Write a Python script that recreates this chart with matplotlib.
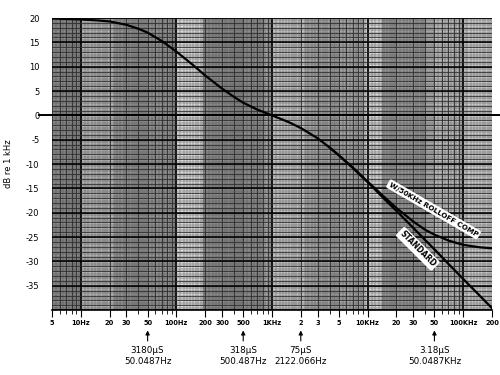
import numpy as np
import matplotlib
matplotlib.use("Agg")
import matplotlib.pyplot as plt

# RIAA playback response (dB re 1 kHz)
freq_std = [5, 7, 10, 15, 20, 30, 40, 50, 70, 100, 150, 200, 300, 400, 500,
            700, 1000, 1500, 2000, 3000, 4000, 5000, 7000, 10000, 15000,
            20000, 30000, 40000, 50000, 70000, 100000, 150000, 200000]
db_std = [19.9, 19.8, 19.7, 19.5, 19.3, 18.6, 17.8, 17.0, 15.3, 13.1, 10.3,
          8.2, 5.5, 3.8, 2.6, 1.2, 0.0, -1.4, -2.6, -4.7, -6.6, -8.2, -10.8,
          -13.7, -17.2, -19.6, -23.1, -25.6, -27.5, -30.5, -33.6, -37.1, -39.6]

# with 50 kHz (3.18 us) rolloff compensation, splits off above ~5 kHz
freq_comp = [4000, 5000, 7000, 10000, 15000, 20000, 30000, 40000, 50000,
             70000, 100000, 150000, 200000]
db_comp = [-6.6, -8.2, -10.7, -13.6, -16.8, -19.0, -21.8, -23.5, -24.5,
           -25.7, -26.6, -27.1, -27.3]

xtick_vals = [5, 10, 20, 30, 50, 100, 200, 300, 500, 1000, 2000, 3000, 5000,
              10000, 20000, 30000, 50000, 100000, 200000]
xtick_labels = ["5", "10Hz", "20", "30", "50", "100Hz", "200", "300", "500",
                "1KHz", "2", "3", "5", "10KHz", "20", "30", "50", "100KHz", "200"]
ytick_vals = [20, 15, 10, 5, 0, -5, -10, -15, -20, -25, -30, -35]

marker_freqs = [50, 500, 2000, 50000]
marker_labels = ["3180\u00b5S\n50.0487Hz", "318\u00b5S\n500.487Hz",
                 "75\u00b5S\n2122.066Hz", "3.18\u00b5S\n50.0487KHz"]

fig = plt.figure(figsize=(5, 3.75), dpi=100)
fig.patch.set_facecolor("white")
ax = fig.add_axes([0.104, 0.173, 0.880, 0.779])
ax.set_xscale("log")
ax.set_xlim(5, 200000)
ax.set_ylim(-40, 20)
ax.set_facecolor("#bcbcbc")

# scanned graph paper: uneven vertical shading bands
bands = [(5, 10, "#8a8a8a"), (10, 22, "#b4b4b4"), (22, 100, "#949494"),
         (100, 190, "#d8d8d8"), (190, 800, "#8c8c8c"), (800, 1000, "#a8a8a8"),
         (1000, 2200, "#c4c4c4"), (2200, 9000, "#a6a6a6"),
         (9000, 14000, "#d4d4d4"), (14000, 40000, "#989898"),
         (40000, 110000, "#bcbcbc"), (110000, 200000, "#cccccc")]
for f0, f1, c in bands:
    ax.axvspan(f0, f1, color=c, lw=0, zorder=0)

# fine graph paper rulings
for dec in [1, 10, 100, 1000, 10000, 100000]:
    subs = np.concatenate([np.arange(1.0, 2.0, 0.1), np.arange(2.0, 5.0, 0.2),
                           np.arange(5.0, 10.0, 0.5)])
    for m in subs:
        f = m * dec
        if 5 <= f <= 200000:
            ax.axvline(f, color="#4a4a4a", lw=0.3, zorder=1)
    for m in range(2, 10):
        f = m * dec
        if 5 <= f <= 200000:
            ax.axvline(f, color="#2a2a2a", lw=0.6, zorder=1)
for dec in [10, 100, 1000, 10000, 100000]:
    ax.axvline(dec, color="black", lw=1.3, zorder=1)
for y in np.arange(-40, 20.01, 0.5):
    ax.axhline(y, color="#4a4a4a", lw=0.3, zorder=1)
for y in range(-40, 21):
    ax.axhline(y, color="#2a2a2a", lw=0.55, zorder=1)
for y in range(-40, 21, 5):
    ax.axhline(y, color="black", lw=1.1, zorder=1)

# curves
ax.plot(freq_std, db_std, color="black", lw=1.6, zorder=3)
ax.plot(freq_comp, db_comp, color="black", lw=1.6, zorder=3)

# 0 dB reference line runs past the axes
ax.plot([-0.03, 1.04], [0, 0], color="black", lw=1.4, zorder=4,
        transform=ax.get_yaxis_transform(), clip_on=False)

# curve labels
box = dict(boxstyle="round,pad=0.25", facecolor="white", edgecolor="none")
ax.text(49000, -19.3, "W/50KHz ROLLOFF COMP", rotation=-30, fontsize=5.2,
        fontweight="bold", ha="center", va="center", bbox=box, zorder=5)
ax.text(33500, -27.4, "STANDARD", rotation=-45, fontsize=5.5,
        fontweight="bold", ha="center", va="center", bbox=box, zorder=5)

# axes and ticks
for s in ["top", "right", "left"]:
    ax.spines[s].set_visible(False)
ax.spines["bottom"].set_linewidth(1.2)
ax.set_xticks(xtick_vals)
ax.set_xticklabels(xtick_labels, fontsize=4.8, fontweight="bold")
minor = [m * d for d in [1, 10, 100, 1000, 10000, 100000] for m in range(2, 10)
         if 5 <= m * d <= 200000 and m * d not in xtick_vals]
ax.set_xticks(minor, minor=True)
ax.xaxis.set_minor_formatter(matplotlib.ticker.NullFormatter())
ax.tick_params(axis="x", which="major", length=5, width=0.8, pad=2)
ax.tick_params(axis="x", which="minor", length=3, width=0.6)
ax.set_yticks(ytick_vals)
ax.set_yticklabels([str(v) for v in ytick_vals], fontsize=6)
ax.tick_params(axis="y", length=0, pad=9)
ax.set_ylabel("dB re 1 kHz", fontsize=6, labelpad=9)

# time-constant markers below the frequency axis
trans = ax.get_xaxis_transform()
for f, lab in zip(marker_freqs, marker_labels):
    ax.annotate("", xy=(f, -0.06), xytext=(f, -0.115), xycoords=trans,
                textcoords=trans,
                arrowprops=dict(arrowstyle="-|>", color="black", lw=0.8,
                                mutation_scale=6))
    ax.text(f, -0.122, lab, transform=trans, ha="center", va="top",
            fontsize=6.3, linespacing=1.3)

plt.savefig("out.png", dpi=100)
